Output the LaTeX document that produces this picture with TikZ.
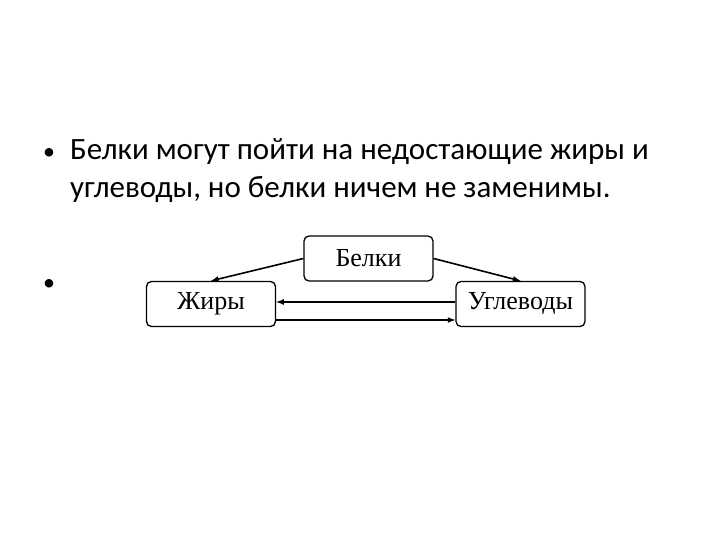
\documentclass[tikz,border=0pt]{standalone}
\usepackage{fontspec}
\setmainfont{Carlito}
\newfontfamily\boxfont{Liberation Serif}
\begin{document}
\begin{tikzpicture}[x=1pt,y=-1pt,
  bx/.style={draw,line width=1.3pt,rounded corners=5pt,minimum width=129pt,minimum height=45pt,font=\boxfont\fontsize{26}{30}\selectfont,inner sep=0pt},
  ar/.style={line width=1.6pt,-latex},
  txt/.style={anchor=base west,font=\fontsize{31}{38}\selectfont,inner sep=0pt}]
\useasboundingbox (0,0) rectangle (720,540);
\node[txt] (b1) at (43,160) {\fontsize{24}{28}\selectfont•};
\node[txt] (l1) at (70,160) {Белки могут пойти на недостающие жиры и};
\node[txt] (l2) at (70,198) {углеводы, но белки ничем не заменимы.};
\node[txt] (b2) at (43,290) {\fontsize{24}{28}\selectfont•};
\node[bx] (b) at (368.5,258.5) {Белки};
\node[bx] (zh) at (211,304) {Жиры};
\node[bx] (u) at (520.5,304) {Углеводы};
\draw[ar] (b.west) -- (zh.north);
\draw[ar] (b.east) -- (u.north);
\draw[ar] (u.west|-0,302) -- (zh.east|-0,302);
\draw[ar] (zh.east|-0,320) -- (u.west|-0,320);
\end{tikzpicture}
\end{document}
